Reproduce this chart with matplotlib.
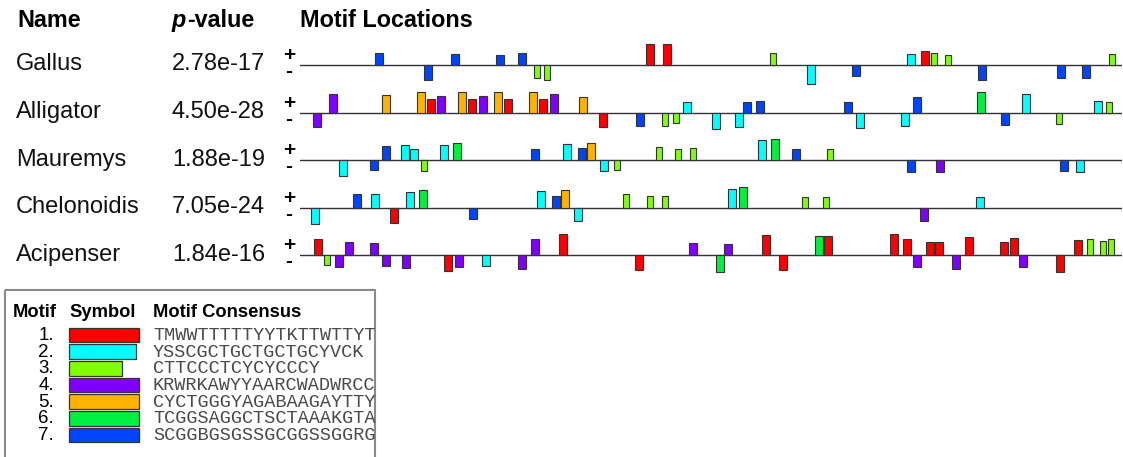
import matplotlib

matplotlib.use("Agg")
import matplotlib.pyplot as plt
from matplotlib.patches import Rectangle
from matplotlib.transforms import Bbox, TransformedBbox

plt.rcParams["font.family"] = ["Liberation Sans", "DejaVu Sans"]

# motif table
MOTIF_IDS = [1, 2, 3, 4, 5, 6, 7]
MOTIF_WIDTHS = [20, 19, 15, 20, 20, 20, 20]
MOTIF_COLORS = ["#ff0000", "#00ffff", "#80ff00", "#8000ff", "#ffb300", "#00f040", "#0044ff"]
MOTIF_CONSENSUS = [
    "TMWWTTTTTYYTKTTWTTYTW",
    "YSSCGCTGCTGCTGCYVCK",
    "CTTCCCTCYCYCCCY",
    "KRWRKAWYYAARCWADWRCCA",
    "CYCTGGGYAGABAAGAYTTYA",
    "TCGGSAGGCTSCTAAAKGTAG",
    "SCGGBGSGSSGCGGSSGGRGG",
]

SEQ_LENGTH = 2000
SEQ_NAMES = ["Gallus", "Alligator", "Mauremys", "Chelonoidis", "Acipenser"]
SEQ_PVALUES = ["2.78e-17", "4.50e-28", "1.88e-19", "7.05e-24", "1.84e-16"]

# per-sequence hits: motif number, start (bp), signed score (+ strand up, - strand down)
GALLUS_MOTIFS = [7, 7, 7, 7, 7, 3, 3, 1, 1, 3, 2, 7, 2, 1, 3, 3, 7, 7, 7, 3]
GALLUS_STARTS = [182, 302, 367, 477, 530, 569, 594, 842, 883, 1144, 1234, 1343, 1477, 1511,
                 1535, 1569, 1650, 1842, 1903, 1968]
GALLUS_SCORES = [12, -15, 11, 10, 12, -13, -15, 21, 21, 12, -19, -11, 11, 14, 12, 10, -15,
                 -13, -13, 11]

ALLIGATOR_MOTIFS = [4, 4, 5, 5, 1, 4, 5, 1, 4, 5, 1, 5, 1, 4, 5, 1, 7, 3, 3, 2, 2, 2, 7, 7,
                    7, 2, 2, 7, 6, 7, 2, 3, 2, 3]
ALLIGATOR_STARTS = [32, 71, 200, 285, 309, 333, 384, 409, 436, 472, 496, 557, 581, 608, 679,
                    727, 818, 881, 907, 932, 1002, 1058, 1078, 1109, 1324, 1353, 1462, 1491,
                    1647, 1706, 1757, 1839, 1932, 1961]
ALLIGATOR_SCORES = [-14, 19, 18, 21, 14, 17, 21, 14, 17, 21, 14, 21, 14, 19, 16, -14, -13,
                    -13, -10, 11, -16, -14, 11, 12, 11, -15, -13, 16, 21, -12, 19, -11, 12, 11]

MAUREMYS_MOTIFS = [2, 7, 7, 2, 2, 3, 2, 6, 7, 2, 7, 5, 2, 3, 3, 3, 3, 2, 6, 7, 3, 7, 4, 7, 2]
MAUREMYS_STARTS = [95, 170, 200, 246, 268, 294, 341, 372, 562, 640, 676, 698, 730, 764, 866,
                   912, 949, 1114, 1146, 1197, 1282, 1477, 1547, 1849, 1888]
MAUREMYS_SCORES = [-16, -10, 14, 15, 11, -11, 15, 17, 11, 16, 12, 17, -11, -10, 13, 11, 12,
                   20, 21, 11, 11, -12, -12, -11, -12]

CHELONOIDIS_MOTIFS = [2, 7, 2, 1, 2, 6, 7, 2, 7, 5, 2, 3, 3, 3, 2, 6, 3, 3, 4, 2]
CHELONOIDIS_STARTS = [27, 129, 173, 219, 258, 290, 411, 577, 613, 635, 667, 786, 844, 881,
                      1041, 1068, 1221, 1272, 1508, 1645]
CHELONOIDIS_SCORES = [-16, 14, 14, -15, 16, 18, -11, 17, 12, 18, -13, 14, 12, 12, 19, 21,
                      11, 11, -13, 11]

ACIPENSER_MOTIFS = [1, 3, 4, 4, 4, 4, 4, 1, 4, 2, 4, 4, 1, 1, 4, 6, 4, 1, 1, 6, 1, 1, 1, 4,
                    1, 1, 4, 1, 1, 1, 4, 1, 1, 3, 3, 3]
ACIPENSER_STARTS = [34, 58, 85, 109, 170, 200, 248, 350, 377, 443, 530, 562, 630, 815, 946,
                    1012, 1032, 1124, 1165, 1253, 1275, 1435, 1467, 1491, 1523, 1545, 1586,
                    1618, 1703, 1727, 1749, 1839, 1883, 1915, 1946, 1966]
ACIPENSER_SCORES = [16, -10, -12, 13, 12, -11, -13, -16, -12, -11, -14, 16, 21, -15, 12, -17,
                    11, 20, -15, 19, 19, 21, 16, -12, 13, 13, -14, 18, 13, 17, -12, -17, 15,
                    16, 14, 16]

TRACKS = [
    (GALLUS_MOTIFS, GALLUS_STARTS, GALLUS_SCORES),
    (ALLIGATOR_MOTIFS, ALLIGATOR_STARTS, ALLIGATOR_SCORES),
    (MAUREMYS_MOTIFS, MAUREMYS_STARTS, MAUREMYS_SCORES),
    (CHELONOIDIS_MOTIFS, CHELONOIDIS_STARTS, CHELONOIDIS_SCORES),
    (ACIPENSER_MOTIFS, ACIPENSER_STARTS, ACIPENSER_SCORES),
]

W, H = 1123, 457
TRACK_X0, TRACK_X1 = 300, 1122
TRACK_Y = [65, 112.7, 160.3, 207.7, 255.3]
HALF = 25

fig = plt.figure(figsize=(W / 100, H / 100), dpi=100)
page = fig.add_axes([0, 0, 1, 1])
page.set_xlim(0, W)
page.set_ylim(H, 0)
page.axis("off")

# column headers
head = dict(fontsize=16.8, fontweight="bold", va="baseline", color="black")
page.text(17, 26.7, "Name", **head)
page.text(172, 26.7, "p", fontstyle="italic", **head)
page.text(187, 26.7, "-value", **head)
page.text(300, 26.7, "Motif Locations", **head)

for i, (name, pval) in enumerate(zip(SEQ_NAMES, SEQ_PVALUES)):
    y = TRACK_Y[i]
    page.text(16, y + 5.5, name, fontsize=17, va="baseline", color="#111111")
    page.text(172, y + 5.5, pval, fontsize=17, va="baseline", color="#111111")
    # strand markers, stacked in one text
    page.text(289, y - 1.5, "+\n-", fontsize=15, ha="center", va="center",
              multialignment="center", linespacing=0.8, fontweight="bold")

    motifs, starts, scores = TRACKS[i]
    ax = fig.add_axes([TRACK_X0 / W, (H - y - HALF) / H, (TRACK_X1 - TRACK_X0) / W, 2 * HALF / H])
    ax.set_xlim(0, SEQ_LENGTH)
    ax.set_ylim(-HALF, HALF)
    ax.axis("off")
    ax.axhline(0, color="#333333", lw=1.0, zorder=1)
    ax.bar(
        starts,
        scores,
        width=[MOTIF_WIDTHS[m - 1] for m in motifs],
        align="edge",
        color=[MOTIF_COLORS[m - 1] for m in motifs],
        edgecolor="#333333",
        linewidth=0.8,
        zorder=2,
    )

# motif key
box = Rectangle((5, 290), 370, 200, fill=False, edgecolor="#8a8a8a", lw=1.5)
page.add_patch(box)
clip = TransformedBbox(Bbox([[5, 290], [375, 490]]), page.transData)
key_head = dict(fontsize=13.2, fontweight="bold", va="baseline")
page.text(13, 317.3, "Motif", **key_head)
page.text(69, 317.3, "Symbol", **key_head)
page.text(153, 317.3, "Motif Consensus", **key_head)

PX_PER_BP = 3.54
for k, (mid, width, color, cons) in enumerate(zip(MOTIF_IDS, MOTIF_WIDTHS, MOTIF_COLORS, MOTIF_CONSENSUS)):
    base = 340 + 16.67 * k
    page.text(54, base, f"{mid}.", fontsize=13.5, ha="right", va="baseline")
    page.add_patch(Rectangle((68.5, base - 12.3), width * PX_PER_BP, 14.5,
                             facecolor=color, edgecolor="#333333", lw=0.9))
    t = page.text(153, base, cons, fontsize=13.3, family="Liberation Mono",
                  va="baseline", color="#4a4a4a")
    t.set_clip_box(clip)
    t.set_clip_on(True)

fig.savefig("out.png", dpi=100)
